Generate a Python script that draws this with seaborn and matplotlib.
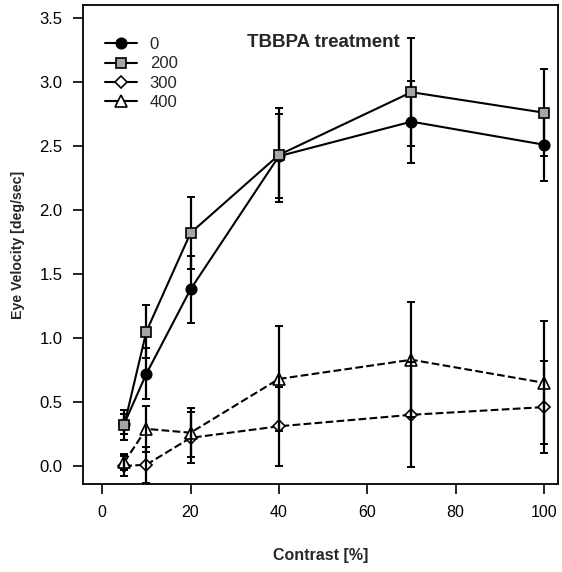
import matplotlib
matplotlib.use("Agg")
import matplotlib.pyplot as plt
from matplotlib.lines import Line2D
import seaborn as sns
import pandas as pd

# Contrast levels [%]
contrast = [5, 10, 20, 40, 70, 100]

# Mean eye velocity [deg/sec] per TBBPA dose, with error (+/-)
vel_0 = [0.33, 0.72, 1.38, 2.42, 2.69, 2.51]
err_0 = [0.08, 0.20, 0.26, 0.33, 0.32, 0.28]

vel_200 = [0.32, 1.05, 1.82, 2.43, 2.92, 2.76]
err_200 = [0.12, 0.21, 0.28, 0.37, 0.42, 0.34]

vel_300 = [0.00, 0.01, 0.22, 0.31, 0.40, 0.46]
err_300 = [0.08, 0.14, 0.20, 0.31, 0.41, 0.36]

vel_400 = [0.03, 0.29, 0.26, 0.68, 0.83, 0.65]
err_400 = [0.06, 0.18, 0.19, 0.41, 0.45, 0.48]

doses = ["0", "200", "300", "400"]
title_text = "TBBPA treatment"

sns.set_theme(style="ticks")
plt.rcParams["font.family"] = ["Liberation Sans", "DejaVu Sans"]

fig = plt.figure(figsize=(5.62, 5.72), dpi=100)
ax = fig.add_axes([0.148, 0.154, 0.845, 0.837])

series = [
    dict(y=vel_0, e=err_0, marker="o", mfc="black", ms=7.5, ls="-"),
    dict(y=vel_200, e=err_200, marker="s", mfc="#a6a6a6", ms=6.5, ls="-"),
    dict(y=vel_300, e=err_300, marker="D", mfc="white", ms=6.2, ls="--"),
    dict(y=vel_400, e=err_400, marker="^", mfc="white", ms=9.0, ls="--"),
]

handles = []
for name, s in zip(doses, series):
    df = pd.DataFrame({"contrast": contrast, "velocity": s["y"]})
    filled = s["mfc"] != "white"
    kw = dict(color="black", lw=1.5, marker=s["marker"], markersize=s["ms"],
              markerfacecolor=s["mfc"], markeredgecolor="black",
              markeredgewidth=1.2, zorder=5 if filled else 2)
    if s["ls"] == "--":
        kw["dashes"] = (4, 2.5)
    sns.lineplot(data=df, x="contrast", y="velocity", ax=ax, legend=False,
                 linestyle=s["ls"], **kw)
    ax.errorbar(contrast, s["y"], yerr=s["e"], fmt="none", ecolor="black",
                elinewidth=1.6, capsize=3.2, capthick=1.4, zorder=4)
    handles.append(Line2D([0], [0], color="black", lw=1.5, marker=s["marker"],
                          markersize=s["ms"], markerfacecolor=s["mfc"],
                          markeredgecolor="black", markeredgewidth=1.2,
                          label=name))

ax.set_xlim(-4.3, 103.2)
ax.set_ylim(-0.14, 3.60)
ax.set_xticks([0, 20, 40, 60, 80, 100])
ax.set_yticks([0.0, 0.5, 1.0, 1.5, 2.0, 2.5, 3.0, 3.5])
ax.set_yticklabels([f"{v:.1f}" for v in ax.get_yticks()])

ax.tick_params(axis="both", direction="out", length=7, width=1.2,
               colors="black", pad=8)
ax.tick_params(axis="x", labelsize=11.5)
ax.tick_params(axis="y", labelsize=12)
for sp in ax.spines.values():
    sp.set_visible(True)
    sp.set_linewidth(1.3)
    sp.set_color("black")

ax.set_xlabel("Contrast [%]", fontsize=11.5, fontweight="bold", labelpad=20)
ax.set_ylabel("Eye Velocity [deg/sec]", fontsize=10.2, fontweight="bold",
              labelpad=10)

ax.text(50, 3.31, title_text, ha="center", va="center", fontsize=13.5,
        fontweight="bold")

ax.legend(handles=handles, loc="upper left", bbox_to_anchor=(0.047, 0.933),
          frameon=False, fontsize=12, handlelength=1.9, handletextpad=0.75,
          labelspacing=0.25, borderaxespad=0, borderpad=0)

fig.savefig("out.png", dpi=100)
